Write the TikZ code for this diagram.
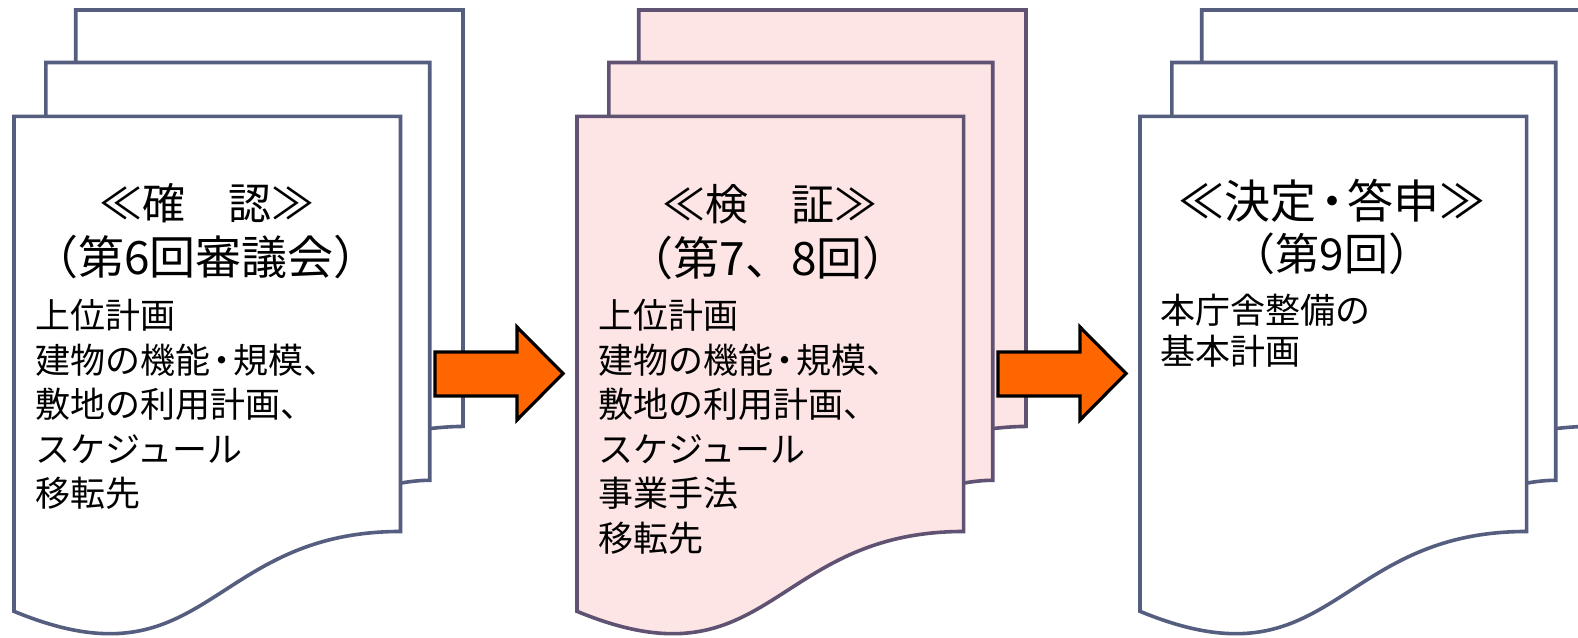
\documentclass[tikz,border=0pt]{standalone}
\usepackage{fontspec}
\newfontfamily\jp{Noto Sans CJK JP}
\definecolor{lineblue}{HTML}{565E80}
\definecolor{linepink}{HTML}{5F5272}
\definecolor{pinkfill}{HTML}{FDE4E5}
\definecolor{arroworange}{HTML}{FF6600}
\newcommand\ndot{\kern-0.17em・\kern-0.17em}
\tikzset{
  docline/.style={line width=3.6pt, line join=miter},
  blockarrow/.style={fill=arroworange, draw=black, line width=3.2pt, line join=miter},
  titletext/.style={inner sep=0pt, text height=0.88em, text depth=0.12em, font=\jp\fontsize{43}{48}\selectfont},
  subtext/.style={inner sep=0pt, text height=0.88em, text depth=0.12em, font=\jp\fontsize{46}{50}\selectfont},
  bodytext/.style={inner sep=0pt, anchor=west, text height=0.88em, text depth=0.12em, font=\jp\fontsize{35}{40}\selectfont},
}
\newcommand\multidoc[3]{%
  \begin{scope}[shift={(#1,10)}, x=0.20787pt, y=-0.28935pt]
    % back page
    \fill[fill=#2] (297.2,181.5) -- (297.2,0) -- (2160,0) -- (2160,1439.2)
      .. controls (2080,1439.2) and (2000,1446.7) .. (2000,1446.7) -- (297.2,1446.7) -- cycle;
    \draw[docline,draw=#3] (297.2,181.5) -- (297.2,0) -- (2160,0) -- (2160,1439.2)
      .. controls (2080,1439.2) and (2000,1446.7) .. (2000,1446.7);
    % middle page
    \fill[fill=#2] (153.2,367.5) -- (153.2,181.5) -- (2000,181.5) -- (2000,1625.2)
      .. controls (1929.8,1625.2) and (1859.5,1635.2) .. (1859.5,1635.2) -- (153.2,1635.2) -- cycle;
    \draw[docline,draw=#3] (153.2,367.5) -- (153.2,181.5) -- (2000,181.5) -- (2000,1625.2)
      .. controls (1929.8,1625.2) and (1859.5,1635.2) .. (1859.5,1635.2);
    % front page
    \filldraw[docline,fill=#2,draw=#3] (0,2078.2) .. controls (929.8,2354.2) and (929.8,1802.2) .. (1859.5,1802.2)
      -- (1859.5,367.5) -- (0,367.5) -- cycle;
  \end{scope}}
\begin{document}
\begin{tikzpicture}[x=1pt,y=-1pt]
\useasboundingbox (0,0) rectangle (1578,637);
\clip (0,0) rectangle (1578,637);
\fill[white] (0,0) rectangle (1578,637);

\multidoc{14}{white}{lineblue}
\multidoc{577}{pinkfill}{linepink}
\multidoc{1140}{white}{lineblue}

% arrows
\draw[blockarrow] (435,352) -- (517,352) -- (517,327) -- (563,373.5) -- (517,420) -- (517,396) -- (435,396) -- cycle;
\draw[blockarrow] (998,352) -- (1080,352) -- (1080,327) -- (1126,373.5) -- (1080,420) -- (1080,396) -- (998,396) -- cycle;

% group 1
\node[titletext] (g1t) at (207,216) {≪確　認≫};
\node[subtext] (g1s) at (206,271) {（第6回審議会）};
\node[bodytext] (g1a) at (35,325) {上位計画};
\node[bodytext] (g1b) at (35,369.5) {建物の機能\ndot 規模、};
\node[bodytext] (g1c) at (35,414) {敷地の利用計画、};
\node[bodytext] (g1d) at (35,458.5) {スケジュール};
\node[bodytext] (g1e) at (35,503) {移転先};

% group 2
\node[titletext] (g2t) at (770,217) {≪検　証≫};
\node[subtext] (g2s) at (768,272) {（第7、8回）};
\node[bodytext] (g2a) at (598,325) {上位計画};
\node[bodytext] (g2b) at (598,369.5) {建物の機能\ndot 規模、};
\node[bodytext] (g2c) at (598,414) {敷地の利用計画、};
\node[bodytext] (g2d) at (598,458.5) {スケジュール};
\node[bodytext] (g2e) at (598,503) {事業手法};
\node[bodytext] (g2f) at (598,547.5) {移転先};

% group 3
\node[titletext, font=\jp\fontsize{46}{50}\selectfont] (g3t) at (1332,215) {≪決定\ndot 答申≫};
\node[subtext, font=\jp\fontsize{44}{48}\selectfont] (g3s) at (1332,267) {（第9回）};
\node[bodytext] (g3a) at (1160,320) {本庁舎整備の};
\node[bodytext] (g3b) at (1160,361) {基本計画};
\end{tikzpicture}
\end{document}
